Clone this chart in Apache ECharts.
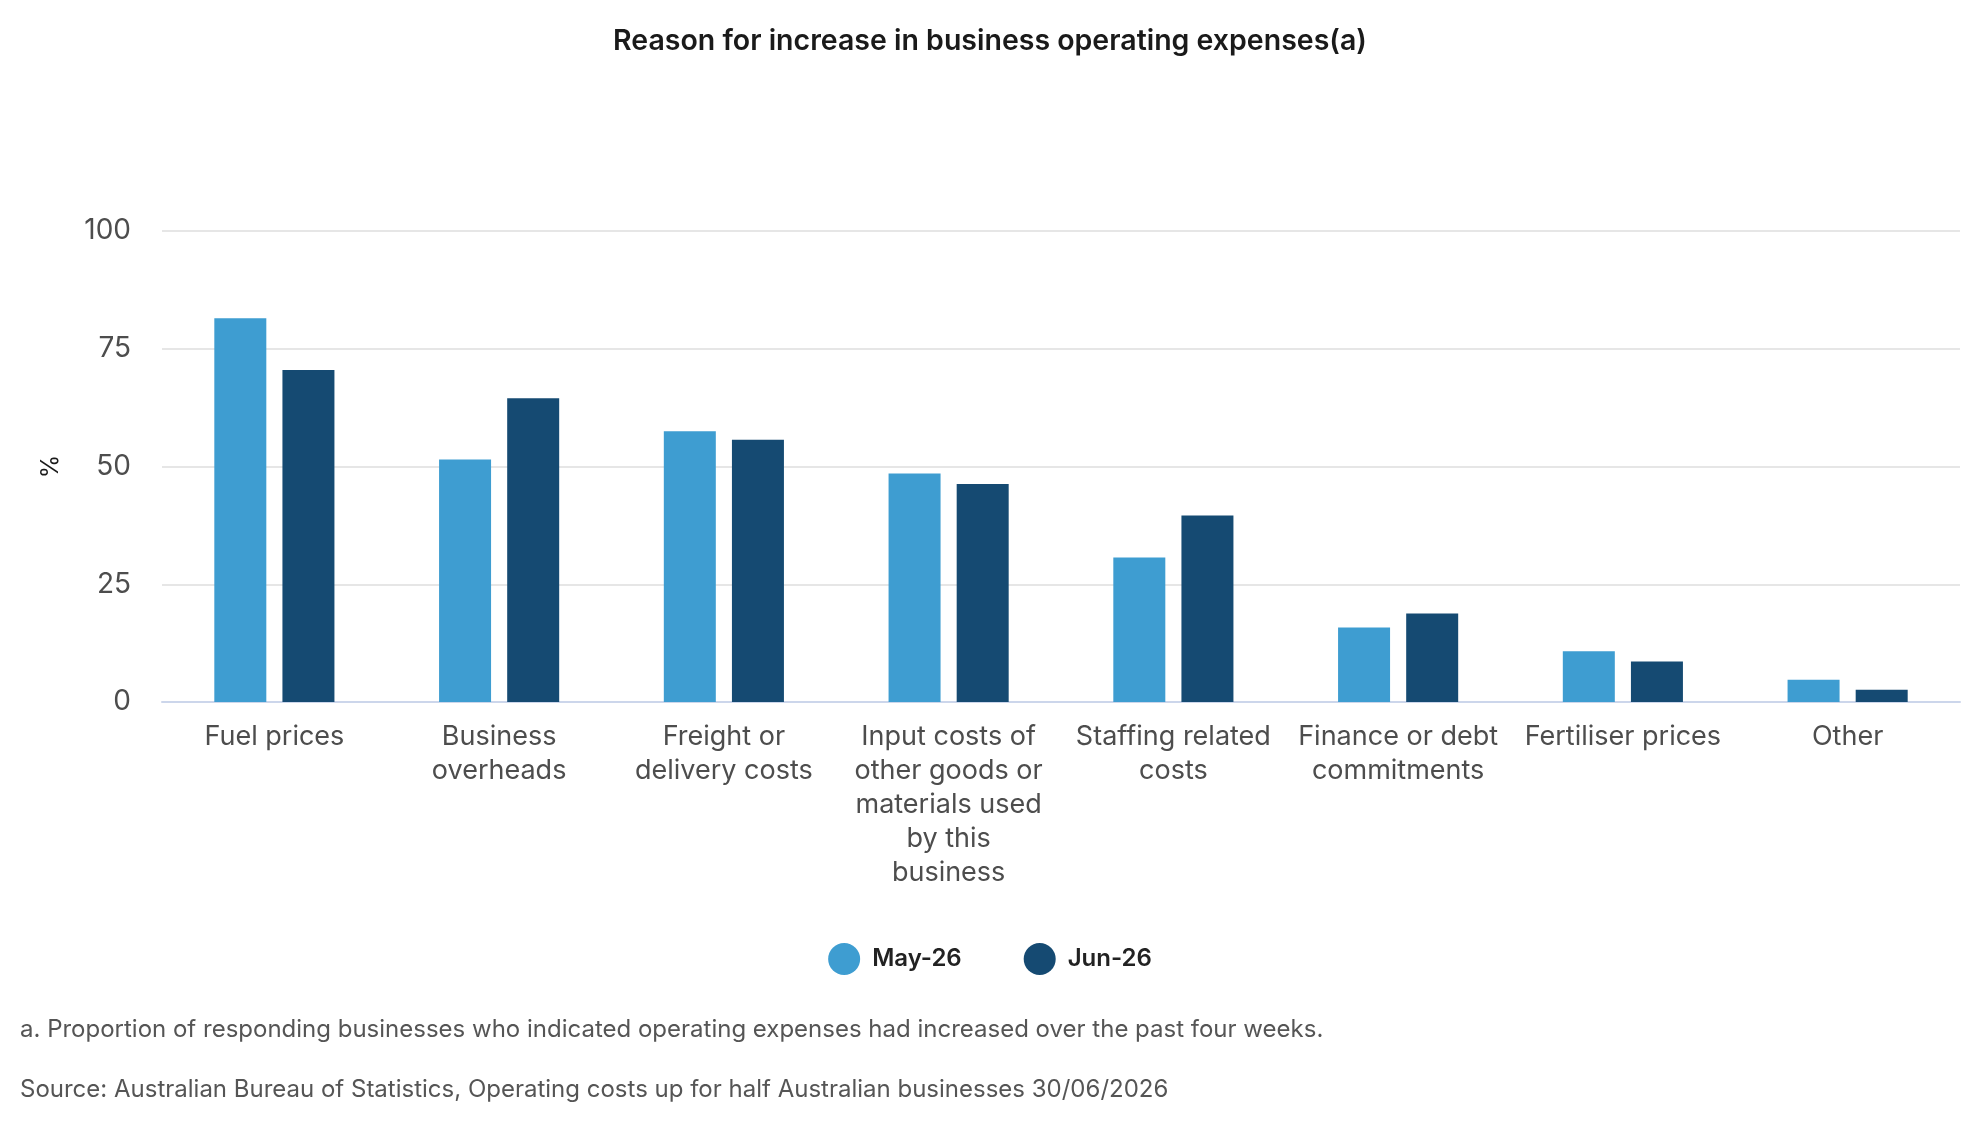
<!DOCTYPE html>
<html>
<head>
<meta charset="utf-8">
<title>Reason for increase in business operating expenses</title>
<script src="https://cdn.jsdelivr.net/npm/echarts@6/dist/echarts.min.js"></script>
<style>
  html, body { margin: 0; padding: 0; background: #fff; }
  #chart { width: 1980px; height: 1140px; }
</style>
</head>
<body>
<div id="chart"></div>
<script>
// categories (line breaks as shown in the source chart)
const categories = [
  'Fuel prices',
  'Business\noverheads',
  'Freight or\ndelivery costs',
  'Input costs of\nother goods or\nmaterials used\nby this\nbusiness',
  'Staffing related\ncosts',
  'Finance or debt\ncommitments',
  'Fertiliser prices',
  'Other',
]
const seriesNames = ['May-26', 'Jun-26']
const may26 = [81.5, 51.5, 57.5, 48.5, 30.7, 15.8, 10.8, 4.7]
const jun26 = [70.5, 64.5, 55.7, 46.3, 39.6, 18.8, 8.6, 2.6]
const yTicks = { min: 0, max: 100, interval: 25 }

const title = 'Reason for increase in business operating expenses(a)'
const footnote = 'a. Proportion of responding businesses who indicated operating expenses had increased over the past four weeks.'
const source = 'Source: Australian Bureau of Statistics, Operating costs up for half Australian businesses 30/06/2026'

const COLORS = ['#3e9dd1', '#154a72']
const FONT = 'Inter, "Noto Sans", sans-serif'

const chart = echarts.init(document.getElementById('chart'), null, { renderer: 'canvas' })

chart.setOption({
  animation: false,
  backgroundColor: '#ffffff',
  color: COLORS,
  textStyle: { fontFamily: FONT },
  title: {
    text: title,
    left: 'center',
    top: 22,
    textStyle: { fontSize: 28.5, fontWeight: 600, color: '#1a1a1a', fontFamily: FONT },
  },
  legend: {
    data: seriesNames,
    bottom: 160,
    left: 'center',
    icon: 'circle',
    itemWidth: 32,
    itemHeight: 32,
    itemGap: 62,
    textStyle: { fontSize: 24, fontWeight: 600, color: '#222', fontFamily: FONT, padding: [4, 0, 0, 7] },
  },
  grid: { left: 162, right: 20, top: 231, bottom: 438, containLabel: false },
  xAxis: {
    type: 'category',
    data: categories,
    axisLine: { lineStyle: { color: '#ccd6eb', width: 2 } },
    axisTick: { show: false },
    axisLabel: {
      interval: 0,
      color: '#4d4d4d',
      fontSize: 27,
      lineHeight: 34,
      margin: 18,
      fontFamily: FONT,
    },
  },
  yAxis: {
    type: 'value',
    min: yTicks.min,
    max: yTicks.max,
    interval: yTicks.interval,
    name: '%',
    nameLocation: 'middle',
    nameGap: 99,
    nameRotate: 90,
    nameTextStyle: { fontSize: 24, color: '#1a1a1a', fontFamily: FONT },
    axisLine: { show: false },
    axisTick: { show: false },
    axisLabel: { color: '#4d4d4d', fontSize: 28, margin: 31, fontFamily: FONT },
    splitLine: { lineStyle: { color: '#e6e6e6', width: 2 } },
  },
  series: [
    { name: seriesNames[0], type: 'bar', data: may26, barWidth: 52, barGap: '31%' },
    { name: seriesNames[1], type: 'bar', data: jun26, barWidth: 52, barGap: '31%' },
  ],
  graphic: [
    {
      type: 'text', left: 20, top: 1018,
      style: { text: footnote, fontSize: 24, fill: '#555', fontFamily: FONT },
    },
    {
      type: 'text', left: 20, top: 1078,
      style: { text: source, fontSize: 24, fill: '#555', fontFamily: FONT },
    },
  ],
})
</script>
</body>
</html>
